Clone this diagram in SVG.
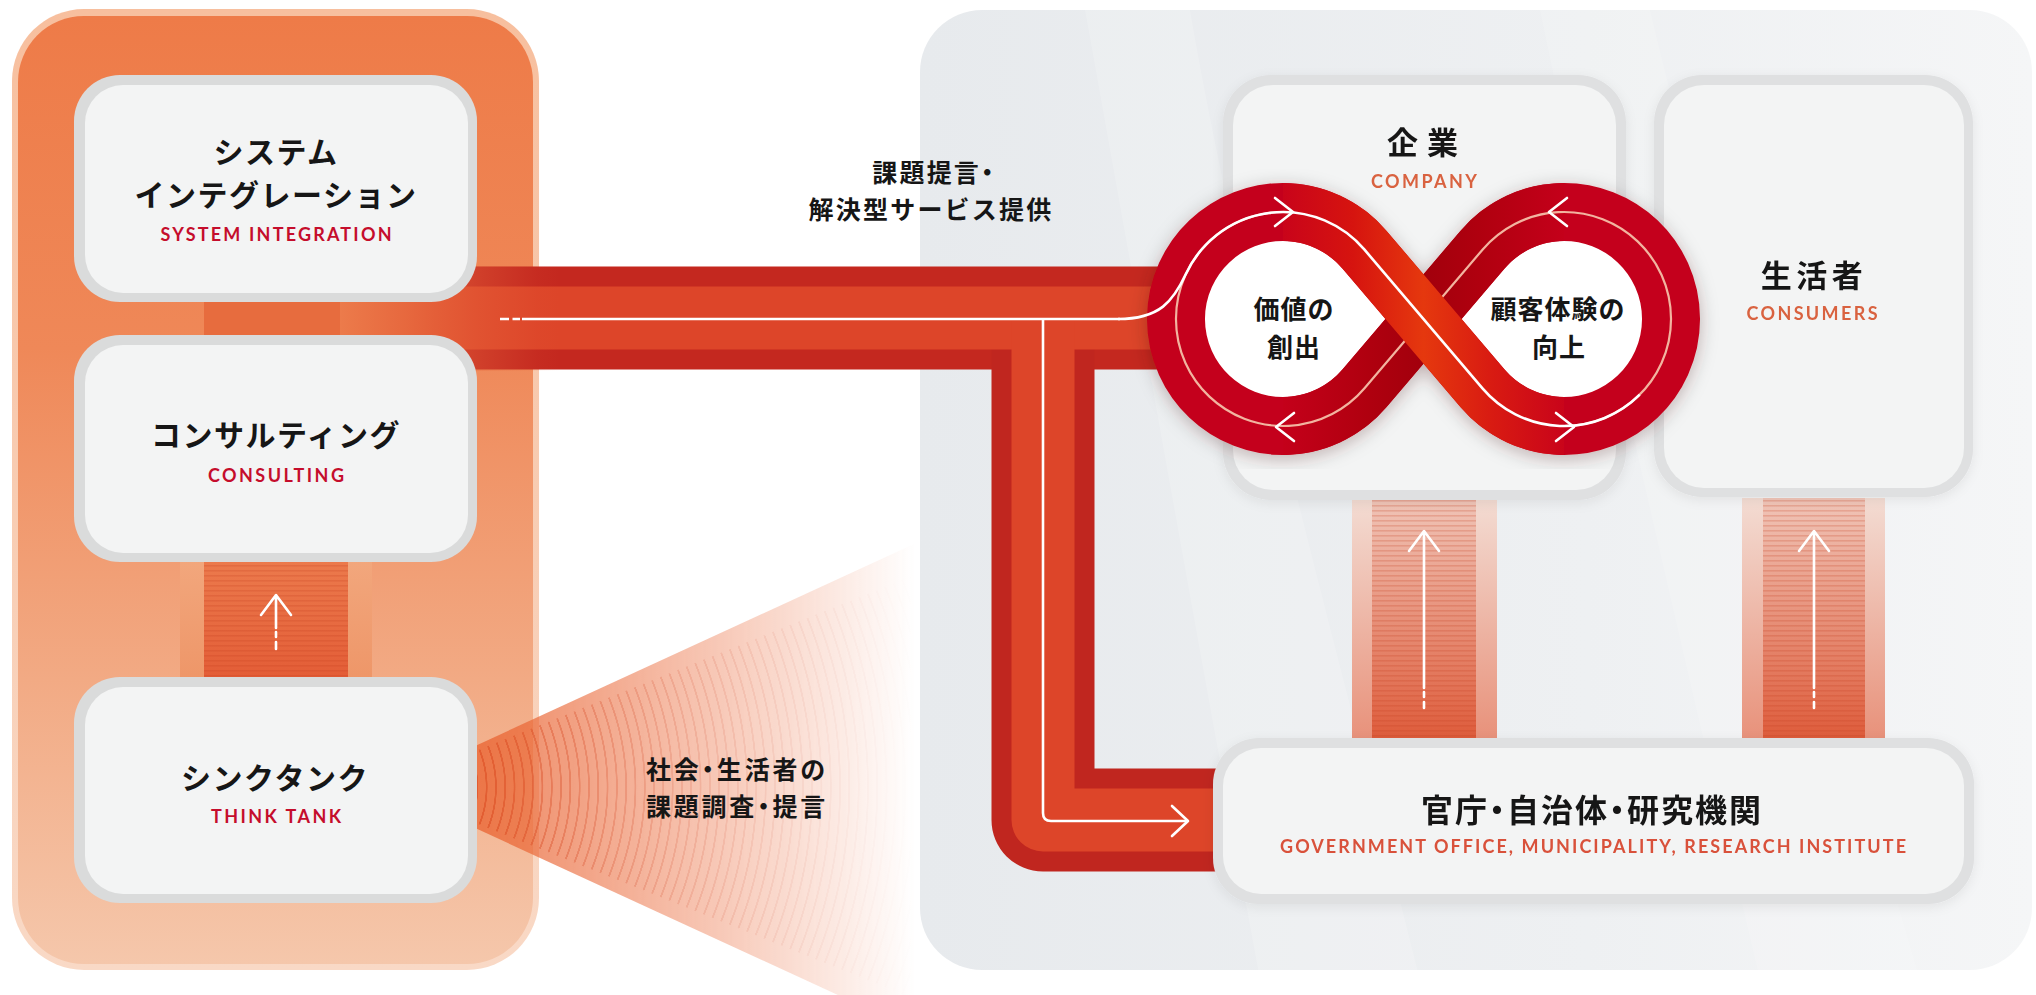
<svg xmlns="http://www.w3.org/2000/svg" width="2036" height="995" viewBox="0 0 2036 995">
<defs>
<style>
.jp{font-family:"Noto Sans CJK JP","Noto Sans CJK SC",sans-serif;font-weight:700;fill:#161616;text-anchor:middle}
.halt{font-feature-settings:"halt" 1}
.t30{font-size:30px;letter-spacing:1.5px}
.t26{font-size:26px;letter-spacing:1px}
.t25{font-size:25px;letter-spacing:2.2px}
.en{font-family:Lato,"Open Sans",sans-serif;font-weight:700;text-anchor:middle;font-size:18px}
.enL{fill:#c50d2c}
.enR{fill:#d9623f}
.enG{fill:#d9513a}
.bo{fill:#dadbdb}
.bi{fill:#f3f4f4}
.bo2{fill:#dfe0e1}
.arw{fill:none;stroke:#fff;stroke-width:2.6;stroke-linecap:round;stroke-linejoin:round}
.wl{fill:none;stroke:#fff;stroke-width:2.6}
</style>
<linearGradient id="lp" x1="0" y1="0" x2="0" y2="1">
<stop offset="0" stop-color="#ee7b48"/>
<stop offset="0.35" stop-color="#ef8858"/>
<stop offset="0.7" stop-color="#f2aa84"/>
<stop offset="1" stop-color="#f5c7ab"/>
</linearGradient>
<linearGradient id="lpb" x1="0" y1="0" x2="0" y2="1">
<stop offset="0" stop-color="#f7bf9e"/>
<stop offset="1" stop-color="#f9d9c6"/>
</linearGradient>
<linearGradient id="rp" x1="0" y1="0" x2="1" y2="0">
<stop offset="0" stop-color="#e7eaed"/>
<stop offset="0.6" stop-color="#eef0f2"/>
<stop offset="1" stop-color="#f5f6f7"/>
</linearGradient>
<linearGradient id="bandFade" gradientUnits="userSpaceOnUse" x1="340" y1="0" x2="560" y2="0">
<stop offset="0" stop-color="#ec7b4b" stop-opacity="1"/>
<stop offset="0.3" stop-color="#ea7445" stop-opacity="0.75"/>
<stop offset="0.62" stop-color="#e86c40" stop-opacity="0.35"/>
<stop offset="0.9" stop-color="#e86c40" stop-opacity="0.05"/>
<stop offset="1" stop-color="#e86c40" stop-opacity="0"/>
</linearGradient>
<linearGradient id="fanFade" gradientUnits="userSpaceOnUse" x1="477" y1="0" x2="915" y2="0">
<stop offset="0" stop-color="#fff"/>
<stop offset="0.3" stop-color="#b0b0b0"/>
<stop offset="0.6" stop-color="#666"/>
<stop offset="0.85" stop-color="#262626"/>
<stop offset="1" stop-color="#000"/>
</linearGradient>
<mask id="fanMask" maskUnits="userSpaceOnUse" x="380" y="480" width="560" height="515">
<rect x="380" y="480" width="560" height="515" fill="url(#fanFade)"/>
</mask>
<radialGradient id="rings" gradientUnits="userSpaceOnUse" cx="386" cy="787" r="9.3" fx="386" fy="787" spreadMethod="repeat">
<stop offset="0" stop-color="#de5328" stop-opacity="0"/>
<stop offset="0.7" stop-color="#de5328" stop-opacity="0"/>
<stop offset="0.74" stop-color="#de5328" stop-opacity="0.75"/>
<stop offset="0.9" stop-color="#de5328" stop-opacity="0.75"/>
<stop offset="0.94" stop-color="#de5328" stop-opacity="0"/>
<stop offset="1" stop-color="#de5328" stop-opacity="0"/>
</radialGradient>
<linearGradient id="cOL" x1="0" y1="0" x2="0" y2="1">
<stop offset="0" stop-color="#f2a77d"/>
<stop offset="1" stop-color="#ee9668"/>
</linearGradient>
<linearGradient id="cIL" x1="0" y1="0" x2="0" y2="1">
<stop offset="0" stop-color="#ec7b4d"/>
<stop offset="1" stop-color="#e35c36"/>
</linearGradient>
<linearGradient id="cOR" x1="0" y1="0" x2="0" y2="1">
<stop offset="0" stop-color="#f3dcd3"/>
<stop offset="1" stop-color="#e8917a"/>
</linearGradient>
<linearGradient id="cIR" x1="0" y1="0" x2="0" y2="1">
<stop offset="0" stop-color="#f0c6b9"/>
<stop offset="1" stop-color="#de5b3a"/>
</linearGradient>
<pattern id="stripes" width="10" height="5" patternUnits="userSpaceOnUse">
<rect width="10" height="1.6" fill="#c23a1c" fill-opacity="0.22"/>
</pattern>
<linearGradient id="over" gradientUnits="userSpaceOnUse" x1="1283" y1="0" x2="1564" y2="0">
<stop offset="0" stop-color="#c9041a"/>
<stop offset="0.25" stop-color="#d6140f"/>
<stop offset="0.5" stop-color="#e5380e"/>
<stop offset="0.75" stop-color="#d81a12"/>
<stop offset="1" stop-color="#c9041a"/>
</linearGradient>
<linearGradient id="under" gradientUnits="userSpaceOnUse" x1="1283" y1="0" x2="1564" y2="0">
<stop offset="0" stop-color="#c4001a"/>
<stop offset="0.3" stop-color="#b0000f"/>
<stop offset="0.5" stop-color="#a2000c"/>
<stop offset="0.7" stop-color="#b0000f"/>
<stop offset="1" stop-color="#c4001a"/>
</linearGradient>
<filter id="ringShadow" x="-20%" y="-20%" width="140%" height="140%">
<feDropShadow dx="0" dy="4" stdDeviation="9" flood-color="#3a0000" flood-opacity="0.28"/>
</filter>
<filter id="boxShadow" x="-10%" y="-10%" width="120%" height="130%">
<feDropShadow dx="0" dy="3" stdDeviation="6" flood-color="#000" flood-opacity="0.07"/>
</filter>
<clipPath id="rpClip"><rect x="920" y="10" width="1112" height="960" rx="62"/></clipPath>
</defs>

<rect width="2036" height="995" fill="#fff"/>

<!-- right light panel -->
<g id="right-panel">
<rect x="920" y="10" width="1112" height="960" rx="62" fill="url(#rp)"/>
<g clip-path="url(#rpClip)" fill="#fff">
<path d="M1085,10 C1130,260 1190,600 1260,980 L1420,980 C1330,620 1240,300 1190,10 Z" opacity="0.16"/>
<path d="M1540,10 C1600,300 1680,640 1760,980 L1920,980 C1820,640 1720,300 1650,10 Z" opacity="0.14"/>
</g>
</g>

<!-- left orange panel -->
<g id="left-panel">
<rect x="12" y="9" width="527" height="961" rx="72" fill="url(#lpb)"/>
<rect x="18" y="16" width="515" height="948" rx="66" fill="url(#lp)"/>
</g>

<!-- fan from think tank -->
<g id="fan" mask="url(#fanMask)">
<polygon points="386,787 940,532 940,1042" fill="#ea6636" fill-opacity="0.8"/>
<polygon points="386,787 940,565 940,1009" fill="url(#rings)"/>
</g>

<g id="connectors">
<!-- box1 - box2 joint -->
<rect x="204" y="298" width="144" height="41" fill="#e76c3e"/>
<!-- box2 -> box3 -->
<rect x="180" y="558" width="192" height="123" fill="url(#cOL)"/>
<rect x="204" y="558" width="144" height="123" fill="url(#cIL)"/>
<rect x="204" y="558" width="144" height="123" fill="url(#stripes)"/>
<path class="arw" d="M261,615 L276,595 L291,615 M276,596 V628 M276,632 V637 M276,642 V649"/>

<!-- red service band -->
<path d="M340,318 H1195" fill="none" stroke="#c4281f" stroke-width="103"/>
<path d="M1043,318 V820 H1240" fill="none" stroke="#c0261f" stroke-width="103" stroke-linejoin="round"/>
<path d="M340,318 H1195" fill="none" stroke="#dd4529" stroke-width="63"/>
<path d="M1043,318 V820 H1240" fill="none" stroke="#dd4529" stroke-width="63" stroke-linejoin="round"/>
<rect x="340" y="266" width="220" height="105" fill="url(#bandFade)"/>
<path class="wl" d="M500,319 H509 M512.5,319 H520"/>
<path class="wl" d="M522,319 H1120"/>
<path class="wl" d="M1043,319 V813 Q1043,821 1051,821 H1187"/>
<path class="arw" d="M1172,806 L1188,821 L1172,836"/>

<!-- government -> company -->
<rect x="1352" y="498" width="145" height="242" fill="url(#cOR)"/>
<rect x="1372" y="498" width="104" height="242" fill="url(#cIR)"/>
<rect x="1372" y="498" width="104" height="242" fill="url(#stripes)"/>
<path class="arw" d="M1409,551 L1424,531 L1439,551 M1424,532 V688 M1424,692 V697 M1424,702 V708"/>
<!-- government -> consumers -->
<rect x="1742" y="498" width="143" height="242" fill="url(#cOR)"/>
<rect x="1763" y="498" width="102" height="242" fill="url(#cIR)"/>
<rect x="1763" y="498" width="102" height="242" fill="url(#stripes)"/>
<path class="arw" d="M1799,551 L1814,531 L1829,551 M1814,532 V688 M1814,692 V697 M1814,702 V708"/>
</g>

<g id="node-system-integration">
<rect class="bo" x="74" y="75" width="403" height="227" rx="46"/>
<rect class="bi" x="85" y="85" width="383" height="208" rx="38"/>
<text class="jp t30" x="276" y="163">システム</text>
<text class="jp t30" x="276" y="206">インテグレーション</text>
<text class="en enL" x="276" y="241" textLength="231">SYSTEM INTEGRATION</text>
</g>

<g id="node-consulting">
<rect class="bo" x="74" y="335" width="403" height="227" rx="46"/>
<rect class="bi" x="85" y="345" width="383" height="208" rx="38"/>
<text class="jp t30" x="276" y="446">コンサルティング</text>
<text class="en enL" x="276" y="482" textLength="136">CONSULTING</text>
</g>

<g id="node-think-tank">
<rect class="bo" x="74" y="677" width="403" height="226" rx="46"/>
<rect class="bi" x="85" y="687" width="383" height="207" rx="38"/>
<text class="jp t30" x="275" y="789">シンクタンク</text>
<text class="en enL" x="276" y="823" textLength="130">THINK TANK</text>
</g>

<g id="node-company" filter="url(#boxShadow)">
<rect class="bo2" x="1223" y="75" width="403" height="425" rx="48"/>
<rect class="bi" x="1233" y="85" width="383" height="405" rx="40"/>
<text class="jp" x="1427" y="154" style="font-size:31px;letter-spacing:9px">企業</text>
<text class="en enR" x="1424" y="188" textLength="106">COMPANY</text>
</g>

<g id="node-consumers" filter="url(#boxShadow)">
<rect class="bo2" x="1654" y="75" width="319" height="422" rx="48"/>
<rect class="bi" x="1664" y="85" width="300" height="403" rx="40"/>
<text class="jp" x="1814" y="287" style="font-size:31px;letter-spacing:4.5px">生活者</text>
<text class="en enR" x="1812" y="320" textLength="131">CONSUMERS</text>
</g>

<g id="node-government" filter="url(#boxShadow)">
<rect class="bo2" x="1213" y="738" width="761" height="166" rx="46"/>
<rect class="bi" x="1223" y="748" width="741" height="146" rx="38"/>
<text class="jp halt" x="1592" y="822" style="font-size:32px;letter-spacing:2px">官庁・自治体・研究機関</text>
<text class="en enG" x="1593" y="853" textLength="626">GOVERNMENT OFFICE, MUNICIPALITY, RESEARCH INSTITUTE</text>
</g>

<g id="node-infinity">
<path filter="url(#ringShadow)" d="M1364.5,249.7 L1482.5,388.3 A107,107 0 1 0 1482.5,249.7 L1364.5,388.3 A107,107 0 1 1 1364.5,249.7 Z" fill="#fff" stroke="#c4001a" stroke-width="58"/>
<path d="M1564,212 A107,107 0 0 0 1482.5,249.7 L1364.5,388.3 A107,107 0 0 1 1283,426" fill="none" stroke="url(#under)" stroke-width="58"/>
<path d="M1364.5,249.7 L1482.5,388.3 A107,107 0 1 0 1482.5,249.7 L1364.5,388.3 A107,107 0 1 1 1364.5,249.7 Z" fill="none" stroke="#f2b4a0" stroke-width="2.2"/>
<path d="M1283,212 A107,107 0 0 1 1364.5,249.7 L1482.5,388.3 A107,107 0 0 0 1564,426" fill="none" stroke="url(#over)" stroke-width="58"/>
<path class="wl" d="M1118,319 C1160,319 1173.3,301 1186,273.8 A107,107 0 0 1 1364.5,249.7 L1482.5,388.3 A107,107 0 0 0 1639.7,394.7"/>
<path class="arw" d="M1275,198 L1293,212 L1275,226"/>
<path class="arw" d="M1567,198 L1549,212 L1567,226"/>
<path class="arw" d="M1294,413 L1276,427 L1294,441"/>
<path class="arw" d="M1556,413 L1574,427 L1556,441"/>
<text class="jp t26" x="1294" y="319">価値の</text>
<text class="jp t26" x="1294" y="357">創出</text>
<text class="jp t26" x="1558" y="319">顧客体験の</text>
<text class="jp t26" x="1559" y="357">向上</text>
</g>

<g id="labels">
<text class="jp t25 halt" x="934" y="182">課題提言・</text>
<text class="jp t25" x="931" y="219">解決型サービス提供</text>
<text class="jp t25 halt" x="737" y="779" style="letter-spacing:2.8px">社会・生活者の</text>
<text class="jp t25 halt" x="737" y="816" style="letter-spacing:2.8px">課題調査・提言</text>
</g>
</svg>
